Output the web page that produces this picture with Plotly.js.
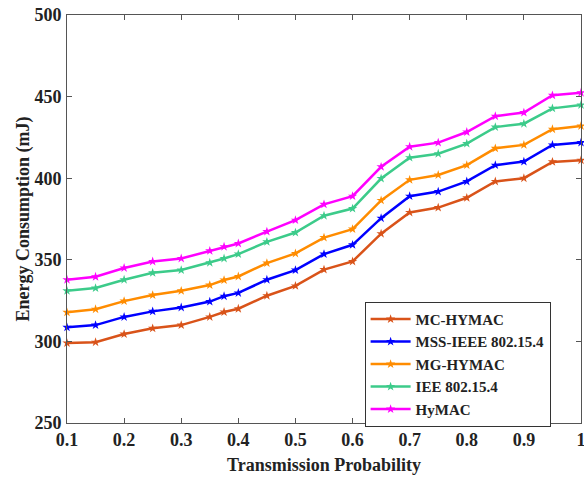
<!DOCTYPE html>
<html>
<head>
<meta charset="utf-8">
<script src="https://cdn.plot.ly/plotly-3.0.1.min.js"></script>
<style>html,body{margin:0;padding:0;background:#fff;}#chart{width:584px;height:481px;}</style>
</head>
<body>
<div id="chart"></div>
<script>
const probability = [0.1, 0.15, 0.2, 0.25, 0.3, 0.35, 0.375, 0.4, 0.45, 0.5, 0.55, 0.6, 0.65, 0.7, 0.75, 0.8, 0.85, 0.9, 0.95, 1.0];
const mcHymac   = [299, 299.5, 304.5, 308, 310, 315, 318, 320, 328, 334, 344, 349, 366, 379, 382, 388, 398, 400, 410, 411];
const mssIeee   = [308.6, 310, 315, 318.4, 320.8, 324.4, 327.7, 329.7, 337.8, 343.7, 353.5, 359.2, 375.5, 389, 391.8, 398, 408, 410.2, 420.4, 421.8];
const mgHymac   = [317.8, 319.7, 324.7, 328.4, 331, 334.5, 337.6, 339.8, 348, 353.9, 363.6, 368.8, 386.4, 399, 402, 408, 418.3, 420.4, 430, 432];
const iee       = [331, 332.7, 337.8, 342, 343.7, 348.2, 350.8, 353.5, 361, 366.7, 377, 381.4, 399.8, 412.6, 415, 421.2, 431.3, 433.4, 442.8, 444.9];
const hymac     = [337.8, 339.6, 345, 349, 350.8, 355.5, 358, 360, 367.3, 374.3, 384, 389, 407, 419.3, 421.8, 428.3, 438, 440.2, 450.8, 452.4];
const seriesNames = ["MC-HYMAC", "MSS-IEEE 802.15.4", "MG-HYMAC", "IEE 802.15.4", "HyMAC"];
const xTicks = [0.1, 0.2, 0.3, 0.4, 0.5, 0.6, 0.7, 0.8, 0.9, 1];
const xTickLabels = ["0.1", "0.2", "0.3", "0.4", "0.5", "0.6", "0.7", "0.8", "0.9", "1"];
const yTicks = [250, 300, 350, 400, 450, 500];

const seriesValues = [mcHymac, mssIeee, mgHymac, iee, hymac];
const colors = ["#D95319", "#0000FF", "#FF8C00", "#3CCB8A", "#FF00FF"];

const traces = seriesValues.map((vals, i) => ({
  x: probability,
  y: vals,
  name: "<b>" + seriesNames[i] + "</b>",
  type: "scatter",
  mode: "lines+markers",
  line: {color: colors[i], width: 2.5},
  marker: {symbol: "star", size: 7, color: colors[i]},
  cliponaxis: false
}));

const fontFam = "Liberation Serif";
const axisCommon = {
  showgrid: false,
  zeroline: false,
  showline: true,
  linecolor: "#555",
  linewidth: 1,
  mirror: "ticks",
  ticks: "inside",
  ticklen: 5,
  tickcolor: "#555",
  ticklabeloverflow: "allow",
  tickfont: {family: fontFam, size: 18, color: "#222", weight: "bold"}
};

const layout = {
  width: 584,
  height: 481,
  margin: {l: 67, r: 3, t: 15, b: 58},
  paper_bgcolor: "#fff",
  plot_bgcolor: "#fff",
  font: {family: fontFam, color: "#222"},
  showlegend: true,
  xaxis: Object.assign({}, axisCommon, {
    range: [0.1, 1.0],
    tickvals: xTicks,
    ticktext: xTickLabels,
    title: {text: "<b>Transmission Probability</b>", font: {family: fontFam, size: 18, color: "#222"}, standoff: 9}
  }),
  yaxis: Object.assign({}, axisCommon, {
    range: [250, 500],
    tickvals: yTicks,
    ticklabelstandoff: 1,
    title: {text: "<b>Energy Consumption (mJ)</b>", font: {family: fontFam, size: 18, color: "#222"}, standoff: 0}
  }),
  legend: {
    x: 0.579, y: 0.297, xanchor: "left", yanchor: "top",
    bgcolor: "#fff",
    bordercolor: "#333",
    borderwidth: 1,
    font: {family: fontFam, size: 15, color: "#222", weight: "bold"},
    itemwidth: 40
  }
};

Plotly.newPlot("chart", traces, layout, {displayModeBar: false, staticPlot: true});
</script>
</body>
</html>
